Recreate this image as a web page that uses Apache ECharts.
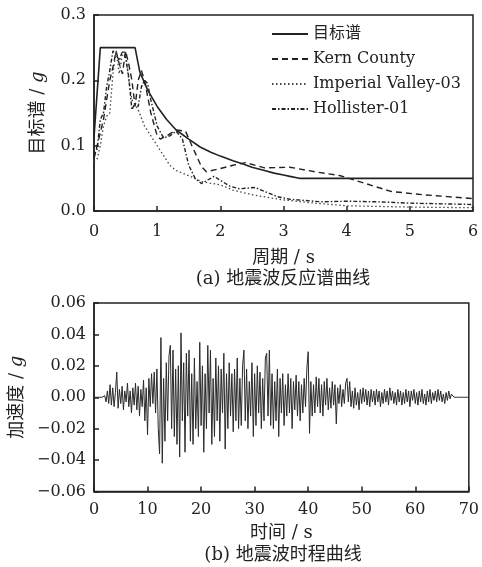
<!DOCTYPE html>
<html><head><meta charset="utf-8">
<script src="https://cdn.jsdelivr.net/npm/echarts@6/dist/echarts.min.js"></script>
<style>html,body{margin:0;padding:0;background:#fff}#c{width:482px;height:567px}</style>
</head><body><div id="c"></div>
<script>
// ---- (a) response spectra ----
const targetT  = [0, 0.1, 0.65, 0.725, 0.85, 1.0, 1.15, 1.3, 1.5, 1.68, 1.85, 2.0, 2.2, 2.36, 2.5, 2.7, 2.85, 3.0, 3.1, 3.25, 6];
const targetSa = [0.1125, 0.25, 0.25, 0.213, 0.185, 0.16, 0.14, 0.124, 0.11, 0.098, 0.09, 0.084, 0.077, 0.072, 0.067, 0.062, 0.058, 0.055, 0.053, 0.05, 0.05];

const kernT  = [0, 0.05, 0.1, 0.15, 0.2, 0.25, 0.3, 0.35, 0.4, 0.45, 0.5, 0.55, 0.6, 0.65, 0.7, 0.75, 0.8, 0.9, 1.0, 1.05, 1.15, 1.3, 1.45, 1.55, 1.7, 1.78, 2.0, 2.2, 2.4, 2.7, 3.1, 3.5, 3.9, 4.2, 4.7, 5.2, 5.6, 6];
const kernSa = [0.08, 0.1, 0.12, 0.14, 0.17, 0.2, 0.22, 0.245, 0.225, 0.21, 0.245, 0.225, 0.2, 0.16, 0.2, 0.215, 0.2, 0.15, 0.115, 0.11, 0.115, 0.124, 0.122, 0.1, 0.068, 0.06, 0.065, 0.07, 0.074, 0.066, 0.067, 0.06, 0.054, 0.045, 0.03, 0.025, 0.022, 0.019];

const impT  = [0, 0.05, 0.1, 0.15, 0.2, 0.25, 0.3, 0.35, 0.4, 0.45, 0.5, 0.55, 0.6, 0.7, 0.8, 0.9, 1.0, 1.1, 1.2, 1.3, 1.4, 1.55, 1.7, 2.0, 2.2, 2.5, 2.8, 3.0, 3.5, 4.0, 5.0, 6];
const impSa = [0.075, 0.08, 0.1, 0.13, 0.145, 0.15, 0.21, 0.245, 0.21, 0.24, 0.245, 0.2, 0.17, 0.155, 0.13, 0.115, 0.1, 0.085, 0.07, 0.062, 0.058, 0.052, 0.045, 0.04, 0.032, 0.025, 0.02, 0.017, 0.012, 0.008, 0.006, 0.005];

const holT  = [0, 0.05, 0.1, 0.15, 0.2, 0.25, 0.3, 0.35, 0.4, 0.45, 0.5, 0.55, 0.6, 0.65, 0.7, 0.75, 0.8, 0.85, 0.9, 1.0, 1.1, 1.2, 1.3, 1.4, 1.5, 1.6, 1.7, 1.9, 2.15, 2.3, 2.55, 2.9, 3.1, 3.6, 4.0, 4.5, 5.0, 6];
const holSa = [0.085, 0.095, 0.14, 0.15, 0.19, 0.215, 0.245, 0.24, 0.23, 0.245, 0.235, 0.205, 0.155, 0.165, 0.16, 0.19, 0.2, 0.195, 0.17, 0.13, 0.112, 0.115, 0.122, 0.11, 0.07, 0.05, 0.042, 0.053, 0.038, 0.034, 0.036, 0.022, 0.018, 0.014, 0.015, 0.014, 0.012, 0.01];

const spectrumNames = ['目标谱', 'Kern County', 'Imperial Valley-03', 'Hollister-01'];
const periodTicks = [0, 1, 2, 3, 4, 5, 6];

// ---- (b) acceleration time history, sampled every 0.25 s from 0 s ----
const accelStart = 0;
const accelStep = 0.25;
const accel = [
  0, 0, 0, 0, 0, 0, 0, 0, 0.001,
  -0.003, 0.004, -0.004, 0.008, -0.005, 0.006, -0.006, 0.003,
  0.016, -0.007, 0.005, -0.004, 0.007, -0.008, 0.004, -0.003,
  0.009, -0.006, 0.004, -0.01, 0.006, -0.005, 0.009, -0.008,
  0.007, -0.012, 0.005, -0.006, 0.011, -0.015, 0.006, -0.024,
  0.012, -0.006, 0.015, -0.004, 0.016, -0.01, 0.018, -0.02,
  -0.036, 0.038, -0.042, 0.012, -0.028, 0.022, -0.015, 0.026,
  0.033, -0.02, 0.03, -0.025, 0.018, -0.03, 0.02, -0.038,
  0.041, -0.015, 0.022, -0.035, 0.028, -0.012, 0.03, -0.028,
  0.015, -0.03, 0.025, -0.02, 0.01, -0.025, 0.035, -0.018,
  0.02, -0.035, 0.015, -0.02, 0.033, -0.01, 0.03, -0.03,
  0.012, -0.025, 0.025, -0.015, 0.02, -0.028, 0.018, -0.01,
  0.028, -0.033, 0.015, -0.02, 0.022, -0.012, 0.015, -0.022,
  0.018, -0.015, 0.025, -0.02, 0.012, -0.018, 0.02, 0.03,
  -0.015, 0.018, -0.02, 0.01, -0.012, 0.022, -0.025, 0.015,
  -0.018, 0.02, -0.01, 0.016, -0.02, 0.012, -0.015, 0.025,
  0.028, -0.012, 0.03, -0.018, 0.015, -0.02, 0.01, -0.015,
  0.018, -0.025, 0.012, -0.01, 0.015, -0.018, 0.008, -0.012,
  0.015, -0.01, 0.012, -0.02, 0.01, -0.008, 0.014, -0.012,
  0.01, -0.015, 0.008, -0.01, 0.012, -0.006, 0.018, 0.029,
  -0.023, 0.01, -0.012, 0.008, -0.01, 0.013, -0.006, 0.012,
  -0.01, 0.008, -0.012, 0.01, -0.005, 0.012, -0.008, 0.006,
  -0.007, 0.01, -0.005, 0.008, -0.017, 0.006, -0.004, 0.008,
  -0.006, 0.005, -0.004, 0.009, 0.012, -0.003, 0.01, -0.006,
  0.004, -0.007, 0.006, -0.005, 0.003, -0.008, 0.005, -0.004,
  0.006, -0.003, 0.005, -0.005, 0.004, -0.006, 0.005, -0.003,
  0.004, -0.005, 0.005, -0.003, 0.004, -0.006, 0.003, -0.004,
  0.005, -0.003, 0.004, -0.005, 0.006, -0.002, 0.004, -0.004,
  0.003, -0.005, 0.005, -0.003, 0.004, -0.005, 0.003, -0.004,
  0.005, -0.003, 0.004, -0.006, 0.004, -0.002, 0.005, -0.004,
  0.003, -0.005, 0.004, -0.003, 0.005, -0.004, 0.002, -0.005,
  0.004, -0.003, 0.005, -0.004, 0.003, -0.002, 0.004, -0.003,
  0.005, -0.002, 0.004, -0.003, 0.002, -0.004, 0.003, -0.002,
  0.004, -0.001, 0.002, 0.001, 0, 0, 0, 0,
  0, 0, 0, 0, 0, 0, 0, 0
];

const FONT = '"DejaVu Serif", "Noto Sans CJK SC", serif';
const INK = '#222';

function zip(xs, ys) { return xs.map((x, i) => [x, ys[i]]); }
const accelData = accel.map((v, i) => [accelStart + i * accelStep, v]);

const chart = echarts.init(document.getElementById('c'), null, { renderer: 'canvas' });

const axisCommon = {
  axisLine: { show: true, onZero: false, lineStyle: { color: INK, width: 1.5 } },
  axisTick: { show: true, inside: true, length: 5, lineStyle: { color: INK, width: 1.5 } },
  splitLine: { show: false },
  axisLabel: { color: INK, fontFamily: FONT, fontSize: 16 },
  nameTextStyle: { color: INK, fontFamily: FONT, fontSize: 18 }
};

function gName(label) {
  return {
    name: '{n|' + label + ' / }{i|g}',
    nameTextStyle: {
      color: INK, fontFamily: FONT, fontSize: 18,
      rich: {
        n: { color: INK, fontFamily: FONT, fontSize: 18 },
        i: { color: INK, fontFamily: FONT, fontSize: 18, fontStyle: 'italic' }
      }
    }
  };
}

const option = {
  animation: false,
  backgroundColor: '#fff',
  grid: [
    { left: 94, right: 9, top: 15, height: 196, show: true, borderColor: INK, borderWidth: 1.5, backgroundColor: 'transparent' },
    { left: 94, right: 9, top: 303, height: 188.5, show: true, borderColor: INK, borderWidth: 1.5, backgroundColor: 'transparent' }
  ],
  legend: {
    orient: 'vertical', left: 266, top: 20, padding: 5,
    itemWidth: 36, itemHeight: 18, itemGap: 7,
    data: spectrumNames,
    itemStyle: { opacity: 0, borderWidth: 0 },
    textStyle: { color: INK, fontFamily: FONT, fontSize: 16, lineHeight: 18 }
  },
  xAxis: [
    Object.assign({}, axisCommon, {
      type: 'value', gridIndex: 0, min: periodTicks[0], max: periodTicks[periodTicks.length - 1], interval: 1,
      name: '周期 / s', nameLocation: 'middle', nameGap: 38,
      axisLabel: Object.assign({}, axisCommon.axisLabel, { margin: 13 })
    }),
    Object.assign({}, axisCommon, {
      type: 'value', gridIndex: 1, min: 0, max: 70, interval: 10,
      name: '时间 / s', nameLocation: 'middle', nameGap: 33,
      axisLabel: Object.assign({}, axisCommon.axisLabel, { margin: 10 })
    })
  ],
  yAxis: [
    Object.assign({}, axisCommon, gName('目标谱'), {
      type: 'value', gridIndex: 0, min: 0, max: 0.3, interval: 0.1,
      nameLocation: 'middle', nameGap: 47, nameRotate: 90,
      axisLabel: Object.assign({}, axisCommon.axisLabel, { margin: 8, formatter: v => v.toFixed(1) })
    }),
    Object.assign({}, axisCommon, gName('加速度'), {
      type: 'value', gridIndex: 1, min: -0.06, max: 0.06, interval: 0.02,
      nameLocation: 'middle', nameGap: 64, nameRotate: 90,
      axisLabel: Object.assign({}, axisCommon.axisLabel, {
        margin: 8,
        formatter: v => (Math.abs(v) < 1e-9 ? '0.00' : (v < 0 ? '−' : '') + Math.abs(v).toFixed(2))
      })
    })
  ],
  series: [
    { name: spectrumNames[0], type: 'line', xAxisIndex: 0, yAxisIndex: 0, data: zip(targetT, targetSa), symbol: 'none', lineStyle: { color: INK, width: 1.6, type: 'solid' }, itemStyle: { color: INK }, z: 5 },
    { name: spectrumNames[1], type: 'line', xAxisIndex: 0, yAxisIndex: 0, data: zip(kernT, kernSa), symbol: 'none', lineStyle: { color: INK, width: 1.4, type: [6, 4] }, itemStyle: { color: INK } },
    { name: spectrumNames[2], type: 'line', xAxisIndex: 0, yAxisIndex: 0, data: zip(impT, impSa), symbol: 'none', lineStyle: { color: '#444', width: 1.3, type: [1.5, 2.5] }, itemStyle: { color: '#444' } },
    { name: spectrumNames[3], type: 'line', xAxisIndex: 0, yAxisIndex: 0, data: zip(holT, holSa), symbol: 'none', lineStyle: { color: INK, width: 1.4, type: [4, 2, 1.5, 2] }, itemStyle: { color: INK } },
    { name: 'accel', type: 'line', xAxisIndex: 1, yAxisIndex: 1, data: accelData, symbol: 'none', lineStyle: { color: '#2a2a2a', width: 1 }, itemStyle: { color: '#2a2a2a' } }
  ],
  graphic: [
    { type: 'text', x: 283, y: 279, style: { text: '(a) 地震波反应谱曲线', font: '18px ' + FONT, fill: INK, textAlign: 'center', textVerticalAlign: 'middle' } },
    { type: 'text', x: 283, y: 555, style: { text: '(b) 地震波时程曲线', font: '18px ' + FONT, fill: INK, textAlign: 'center', textVerticalAlign: 'middle' } }
  ]
};
chart.setOption(option);
</script>
</body></html>
